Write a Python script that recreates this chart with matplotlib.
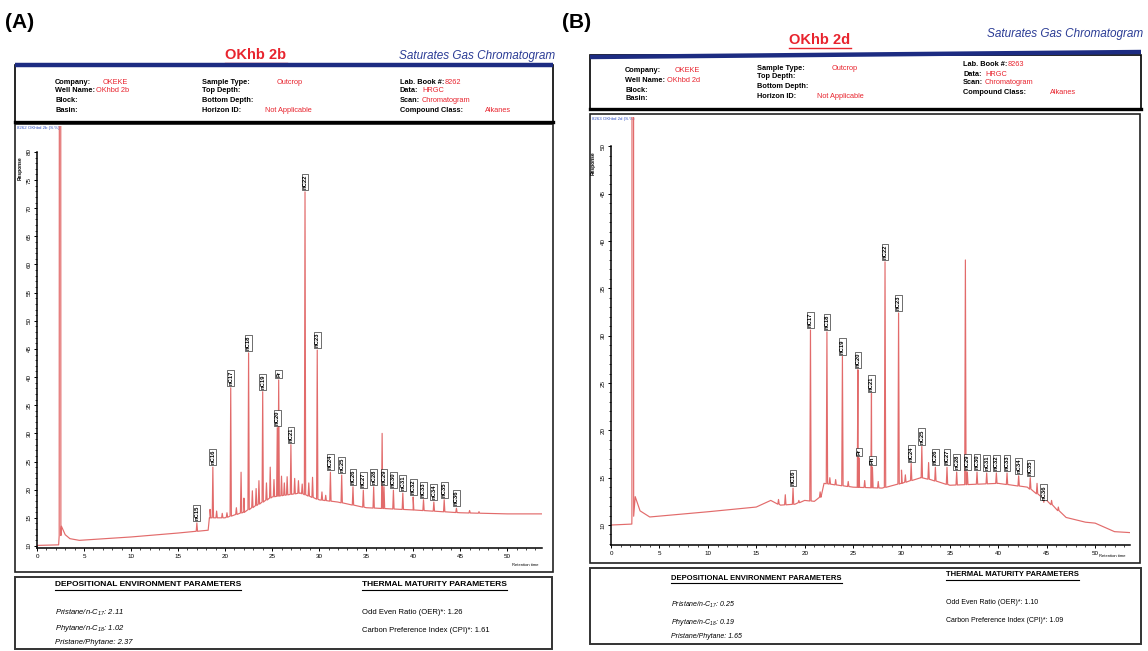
import matplotlib
matplotlib.use('Agg')
import matplotlib.pyplot as plt
import numpy as np
from matplotlib.patches import Rectangle
from matplotlib.ticker import FixedLocator

plt.rcParams['font.family'] = ['Liberation Sans', 'DejaVu Sans']
plt.rcParams['mathtext.default'] = 'regular'

W, H = 1148, 651

# ---------------- panel A (OKhb 2b) ----------------
a_base_x = [0, 2.3, 2.6, 3.0, 3.5, 4.5, 10, 15, 18.2, 18.4, 20, 22, 25, 28, 30, 32, 35, 40, 45, 50, 53.7]
a_base_y = [10.1, 10.2, 13.5, 12.0, 11.3, 11.0, 11.6, 12.3, 12.8, 15.0, 15.0, 16.0, 18.7, 19.4, 18.2, 17.8, 16.8, 16.4, 15.9, 15.7, 15.7]
a_solvent = 2.45
a_peak_x = [17.0, 18.7, 20.6, 22.5, 24.0, 25.55, 25.7, 27.0, 28.5, 29.8, 31.2, 32.4, 33.6, 34.7,
            35.8, 36.9, 37.9, 38.9, 40.0, 41.1, 42.2, 43.3, 44.6]
a_peak_h = [14.1, 24.0, 38.1, 44.3, 37.4, 31.0, 39.5, 28.0, 72.9, 44.8, 23.1, 22.6, 20.5, 19.9,
            20.5, 20.5, 19.9, 19.4, 18.7, 18.2, 17.8, 18.2, 16.7]
a_peak_lab = ["nC15", "nC16", "nC17", "nC18", "nC19", "nC20", "Pr", "nC21", "nC22", "nC23", "nC24",
              "nC25", "nC26", "nC27", "nC28", "nC29", "nC30", "nC31", "nC32", "nC33", "nC34", "nC35", "nC36"]
a_minor_x = [18.4, 19.1, 19.7, 20.2, 21.2, 21.7, 22.0, 22.9, 23.3, 23.6, 24.4, 24.8, 25.2, 26.0, 26.3,
             26.6, 27.4, 27.8, 28.2, 28.9, 29.3, 30.3, 30.7, 36.7, 46.0, 47.0]
a_minor_h = [16.5, 16.2, 15.8, 15.9, 16.8, 23.1, 18.5, 19.8, 20.2, 21.6, 21.2, 24.0, 21.8, 22.4, 21.2,
             22.3, 22.0, 21.6, 21.0, 21.2, 22.2, 19.6, 19.0, 30.0, 16.3, 16.1]

# ---------------- panel B (OKhb 2d) ----------------
b_base_x = [0, 2.15, 2.5, 3.0, 4, 10, 15, 16.5, 17.5, 19, 20, 21, 21.7, 22, 25, 28, 30, 32, 33, 35,
            40, 43, 45, 47, 49, 50, 52, 53.6]
b_base_y = [10.0, 10.1, 13.0, 11.5, 10.85, 11.4, 11.9, 12.6, 12.1, 12.2, 12.6, 12.5, 13.0, 14.4, 14.0,
            13.9, 14.4, 15.0, 14.8, 14.2, 14.4, 14.0, 12.6, 10.8, 10.3, 10.2, 9.3, 9.2]
b_solvent = 2.25
b_peak_x = [18.8, 20.6, 22.3, 23.9, 25.5, 25.6, 26.9, 27.0, 28.3, 29.7, 31.0, 32.1, 33.5, 34.7,
            35.7, 36.8, 37.8, 38.8, 39.8, 40.9, 42.1, 43.3, 44.7]
b_peak_h = [13.9, 30.6, 30.4, 27.8, 26.4, 17.1, 23.9, 16.1, 37.8, 32.4, 16.5, 18.3, 16.1, 16.1,
            15.6, 15.6, 15.6, 15.5, 15.5, 15.5, 15.2, 15.0, 12.4]
b_peak_lab = ["nC16", "nC17", "nC18", "nC19", "nC20", "Pr", "nC21", "Ph", "nC22", "nC23", "nC24",
              "nC25", "nC26", "nC27", "nC28", "nC29", "nC30", "nC31", "nC32", "nC33", "nC34", "nC35", "nC36"]
b_minor_x = [17.3, 18.0, 19.4, 21.6, 22.6, 23.2, 24.5, 26.2, 27.6, 30.0, 30.4, 32.8, 36.6, 44.0, 45.5, 46.2]
b_minor_h = [12.7, 13.2, 12.6, 13.5, 15.0, 14.8, 14.6, 14.7, 14.6, 15.8, 15.3, 16.6, 38.0, 14.4, 12.6, 11.9]

# ---------------- header / report texts ----------------
head_labels = ["Company:", "Well Name:", "Block:", "Basin:",
               "Sample Type:", "Top Depth:", "Bottom Depth:", "Horizon ID:",
               "Lab. Book #:", "Data:", "Scan:", "Compound Class:"]
a_head_values = ["OKEKE", "OKhbd 2b", "", "", "Outcrop", "", "", "Not Applicable",
                 "8262", "HRGC", "Chromatogram", "Alkanes"]
b_head_values = ["OKEKE", "OKhbd 2d", "", "", "Outcrop", "", "", "Not Applicable",
                 "8263", "HRGC", "Chromatogram", "Alkanes"]

dep_title = "DEPOSITIONAL ENVIRONMENT PARAMETERS"
mat_title = "THERMAL MATURITY PARAMETERS"
dep_names = ["Pristane/n-C$_{17}$:", "Phytane/n-C$_{18}$:", "Pristane/Phytane:"]
mat_names = ["Odd Even Ratio (OER)*:", "Carbon Preference Index (CPI)*:"]
a_dep_values = ["2.11", "1.02", "2.37"]
a_mat_values = ["1.26", "1.61"]
b_dep_values = ["0.25", "0.19", "1.65"]
b_mat_values = ["1.10", "1.09"]

RED = '#e8242e'
TRACE = '#e26b6b'
NAVY = '#1d2c82'

fig = plt.figure(figsize=(W / 100, H / 100), dpi=100)
page = fig.add_axes([0, 0, 1, 1])
page.set_xlim(0, W)
page.set_ylim(H, 0)
page.axis('off')


def px_rect(x0, y0, x1, y1):
    return [x0 / W, 1 - y1 / H, (x1 - x0) / W, (y1 - y0) / H]


def underline(t, y, lw=0.8, color='black'):
    r = fig.canvas.get_renderer()
    bb = t.get_window_extent(r)
    page.plot([bb.x0, bb.x1], [y, y], color=color, lw=lw)


def draw_chrom(rect, xmax, ylim, ytop, base_x, base_y, solvent, peak_x, peak_h, peak_lab,
               minor_x, minor_h):
    ax = fig.add_axes(px_rect(*rect))
    ax.set_facecolor('none')
    xs = list(base_x)
    ys = list(base_y)
    allp = [(solvent, 500.0)] + list(zip(peak_x, peak_h)) + list(zip(minor_x, minor_h))
    for x, h in allp:
        b = np.interp(x, base_x, base_y)
        hw = 0.07 if h < 100 else 0.09
        xs += [x - hw, x, x + hw]
        ys += [b, h, b]
    order = np.argsort(xs, kind='stable')
    ax.plot(np.array(xs)[order], np.array(ys)[order], color=TRACE, lw=0.85)
    for x, h, lab in zip(peak_x, peak_h, peak_lab):
        ax.annotate(lab, (x, h), xytext=(0, 2), textcoords='offset points', rotation=90,
                    ha='center', va='bottom', fontsize=4.2, fontweight='bold',
                    bbox=dict(boxstyle='square,pad=0.15', fc='white', ec='black', lw=0.4))
    ax.set_xlim(0, xmax)
    ax.set_ylim(*ylim)
    for s in ['top', 'right']:
        ax.spines[s].set_visible(False)
    ax.spines['left'].set_bounds(ylim[0], ytop)
    ax.spines['left'].set_linewidth(1.1)
    ax.spines['bottom'].set_linewidth(1.1)
    ax.set_xticks(np.arange(0, 51, 5))
    ax.xaxis.set_minor_locator(FixedLocator(np.arange(0, xmax, 1)))
    ax.set_yticks(np.arange(10, ytop + 1, 5))
    ax.yaxis.set_minor_locator(FixedLocator(np.arange(np.ceil(ylim[0]), ytop + 0.1, 1)))
    ax.tick_params(which='major', length=2.5, width=0.7, labelsize=4.5, pad=1.5)
    ax.tick_params(which='minor', length=1.3, width=0.5)
    for lbl in ax.get_yticklabels():
        lbl.set_rotation(90)
        lbl.set_va('center')
    ax.set_ylim(*ylim)
    return ax


def draw_header(box, blue, rows_y, cols_x, val_x, values):
    x0, y0, x1, y1 = box
    page.add_patch(Rectangle((x0, y0), x1 - x0, y1 - y0, fill=False, ec='black', lw=1.2))
    page.plot(blue[0], blue[1], color=NAVY, lw=3.2, solid_capstyle='butt')
    page.plot([x0, x1], [y1, y1], color='black', lw=2.4)
    for i, (lab, val) in enumerate(zip(head_labels, values)):
        c, r = divmod(i, 4)
        y = rows_y[c][r]
        page.text(cols_x[c], y, lab, fontsize=5.3, fontweight='bold', va='center', ha='left')
        if val:
            page.text(val_x[i], y, val, fontsize=5.3, color=RED, va='center', ha='left')


def draw_params(box, t1, t2, left_rows, right_rows, dep_vals, mat_vals, fs):
    x0, y0, x1, y1 = box
    page.add_patch(Rectangle((x0, y0), x1 - x0, y1 - y0, fill=False, ec='#333333', lw=1.4))
    a = page.text(t1[0], t1[1], dep_title, fontsize=fs, fontweight='bold', va='center')
    underline(a, t1[1] + 5)
    b = page.text(t2[0], t2[1], mat_title, fontsize=fs, fontweight='bold', va='center')
    underline(b, t2[1] + 5)
    for (x, y), n, v in zip(left_rows, dep_names, dep_vals):
        page.text(x, y, n + " " + v, fontsize=fs - 0.5, style='italic', va='center')
    for (x, y), n, v in zip(right_rows, mat_names, mat_vals):
        page.text(x, y, n + " " + v, fontsize=fs - 0.5, va='center')


# ---- panel A decorations ----
page.text(5, 22, "(A)", fontsize=15, fontweight='bold', va='center')
ta = page.text(256, 55, "OKhb 2b", fontsize=10.5, fontweight='bold', color=RED, ha='center', va='center')
underline(ta, 63, lw=1.0, color=RED)
page.text(555, 56, "Saturates Gas Chromatogram", fontsize=8.5, style='italic', color='#2c3d96',
          ha='right', va='center')
draw_header((15, 65, 553, 122), ([15, 553], [65, 65]),
            [[82, 91, 101, 110]] * 3, [55, 202, 400],
            [103, 96, 0, 0, 277, 0, 0, 265, 445, 422, 422, 485], a_head_values)
page.add_patch(Rectangle((15, 124), 538, 448, fill=False, ec='#222222', lw=1.2))
page.text(17, 128, "8262 OKhbd 2b (S.%)", fontsize=3.2, color='#3050c0', va='center')
page.text(20, 168, "Response", fontsize=3.5, fontweight='bold', rotation=90, ha='center', va='center')
page.text(525, 565, "Retention time", fontsize=3, ha='center', va='center')
draw_chrom((37, 126, 542, 548), 53.7, (9.64, 84.6), 80, a_base_x, a_base_y, a_solvent,
           a_peak_x, a_peak_h, a_peak_lab, a_minor_x, a_minor_h)
draw_params((15, 577, 552, 649), (55, 585), (362, 585),
            [(55, 613), (55, 629), (55, 643)], [(362, 613), (362, 630)],
            a_dep_values, a_mat_values, 6)

# ---- panel B decorations ----
page.text(562, 22, "(B)", fontsize=15, fontweight='bold', va='center')
tb = page.text(820, 40, "OKhb 2d", fontsize=10.5, fontweight='bold', color=RED, ha='center', va='center')
underline(tb, 48, lw=1.0, color=RED)
page.text(1143, 34, "Saturates Gas Chromatogram", fontsize=8.5, style='italic', color='#2c3d96',
          ha='right', va='center')
draw_header((590, 55, 1141, 109), ([590, 1141], [57, 52]),
            [[71, 80, 90, 99], [68, 77, 87, 96], [64, 74, 83, 92]], [625, 757, 963],
            [675, 667, 0, 0, 832, 0, 0, 817, 1008, 985, 985, 1050], b_head_values)
page.add_patch(Rectangle((590, 114), 550, 449, fill=False, ec='#222222', lw=1.2))
page.text(592, 119, "8263 OKhbd 2d (S.%)", fontsize=3.2, color='#3050c0', va='center')
page.text(593, 163, "Response", fontsize=3.5, fontweight='bold', rotation=90, ha='center', va='center')
page.text(1112, 556, "Retention time", fontsize=3, ha='center', va='center')
draw_chrom((611, 117, 1130, 545), 53.6, (7.89, 53.1), 50, b_base_x, b_base_y, b_solvent,
           b_peak_x, b_peak_h, b_peak_lab, b_minor_x, b_minor_h)
draw_params((590, 568, 1141, 644), (671, 578), (946, 575),
            [(671, 605), (671, 622), (671, 637)], [(946, 603), (946, 620)],
            b_dep_values, b_mat_values, 5.5)

fig.savefig('out.png', dpi=100)
